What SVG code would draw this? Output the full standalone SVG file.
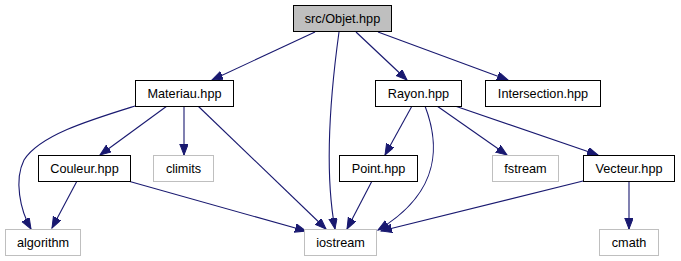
<svg xmlns="http://www.w3.org/2000/svg" width="681" height="261" viewBox="0 0 681 261">
  <style>
    .node rect { fill: #ffffff; stroke: #000000; stroke-width: 1; }
    .node.sys rect { stroke: #bfbfbf; }
    .node.root rect { fill: #bfbfbf; }
    .node text { font-family: "Liberation Sans", Arial, Helvetica, sans-serif; font-size: 12.7px; fill: #000000; text-anchor: middle; }
    .edges path { fill: none; stroke: #191970; stroke-width: 1.1; marker-end: url(#arrow); }
  </style>
  <defs>
    <marker id="arrow" markerUnits="userSpaceOnUse" markerWidth="13" markerHeight="10" refX="11" refY="4.25" orient="auto">
      <polygon points="0,0 11,4.25 0,8.5" fill="#191970" stroke="#191970" stroke-width="1"/>
    </marker>
  </defs>
  <rect width="681" height="261" fill="#ffffff"/>

  <g class="edges">
    <path d="M315,32 L212,80"/>
    <path d="M339,32 C331,90 324,170 335,229"/>
    <path d="M356,32 L407,80"/>
    <path d="M378,32 L508,80"/>
    <path d="M135,106 C90,120 40,135 24,160 C14,180 20,210 31,229"/>
    <path d="M167,106 L100,155"/>
    <path d="M184,106 L184,155"/>
    <path d="M198,106 L326,229"/>
    <path d="M77,181 L52,228"/>
    <path d="M128,181 L306,231"/>
    <path d="M412,106 L385,155"/>
    <path d="M425,106 C438,140 445,190 378,230"/>
    <path d="M437,106 L507,155"/>
    <path d="M455,106 L598,155"/>
    <path d="M372,181 L347,229"/>
    <path d="M583,181 L381,231"/>
    <path d="M629,181 L629,229"/>
  </g>

  <g id="objet" class="node root"><rect x="293.5" y="5.5" width="98" height="26"/><text x="342.5" y="23">src/Objet.hpp</text></g>
  <g id="materiau" class="node"><rect x="135.5" y="80.5" width="98" height="26"/><text x="184.5" y="98">Materiau.hpp</text></g>
  <g id="rayon" class="node"><rect x="375.5" y="80.5" width="86" height="26"/><text x="418.5" y="98">Rayon.hpp</text></g>
  <g id="intersection" class="node"><rect x="485.5" y="80.5" width="115" height="26"/><text x="543" y="98">Intersection.hpp</text></g>
  <g id="couleur" class="node"><rect x="38.5" y="155.5" width="92" height="26"/><text x="84.5" y="173">Couleur.hpp</text></g>
  <g id="climits" class="node sys"><rect x="153.5" y="155.5" width="60" height="26"/><text x="183.5" y="173">climits</text></g>
  <g id="point" class="node"><rect x="339.5" y="155.5" width="78" height="26"/><text x="378.5" y="173">Point.hpp</text></g>
  <g id="fstream" class="node sys"><rect x="492.5" y="155.5" width="66" height="26"/><text x="525.5" y="173">fstream</text></g>
  <g id="vecteur" class="node"><rect x="583.5" y="155.5" width="91" height="26"/><text x="629" y="173">Vecteur.hpp</text></g>
  <g id="algorithm" class="node sys"><rect x="5.5" y="229.5" width="75" height="26"/><text x="43" y="247">algorithm</text></g>
  <g id="iostream" class="node sys"><rect x="304.5" y="229.5" width="72" height="26"/><text x="340.5" y="247">iostream</text></g>
  <g id="cmath" class="node sys"><rect x="599.5" y="229.5" width="59" height="26"/><text x="629" y="247">cmath</text></g>
</svg>
